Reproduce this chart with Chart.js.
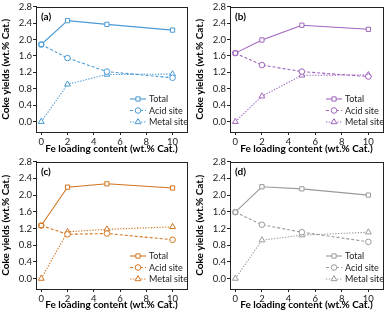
<!DOCTYPE html>
<html>
<head>
<meta charset="utf-8">
<script src="https://cdn.jsdelivr.net/npm/chart.js@4.4.1/dist/chart.umd.min.js"></script>
<style>
  html,body{margin:0;padding:0;background:#fff;}
  #wrap{position:relative;width:389px;height:311px;}
  .pn{position:absolute;}
</style>
</head>
<body>
<div id="wrap">
  <div class="pn" style="left:0;top:0;width:194px;height:155px;"><canvas id="ca"></canvas></div>
  <div class="pn" style="left:194px;top:0;width:195px;height:155px;"><canvas id="cb"></canvas></div>
  <div class="pn" style="left:0;top:155px;width:194px;height:156px;"><canvas id="cc"></canvas></div>
  <div class="pn" style="left:194px;top:155px;width:195px;height:156px;"><canvas id="cd"></canvas></div>
</div>
<script>
// Fe loading (wt.% Cat.)
const feLoading = [0, 2, 5, 10];
const xTicks = [0, 2, 4, 6, 8, 10];
const yTicks = [0, 0.4, 0.8, 1.2, 1.6, 2.0, 2.4, 2.8];

const totalA = [1.88, 2.46, 2.37, 2.23];
const acidA  = [1.88, 1.55, 1.22, 1.07];
const metalA = [0.00, 0.91, 1.15, 1.16];

const totalB = [1.67, 1.99, 2.35, 2.25];
const acidB  = [1.67, 1.38, 1.22, 1.10];
const metalB = [0.00, 0.62, 1.13, 1.14];

const totalC = [1.27, 2.19, 2.27, 2.17];
const acidC  = [1.27, 1.06, 1.08, 0.93];
const metalC = [0.00, 1.12, 1.18, 1.24];

const totalD = [1.59, 2.20, 2.15, 2.00];
const acidD  = [1.59, 1.29, 1.11, 0.88];
const metalD = [0.00, 0.92, 1.04, 1.11];

const seriesNames = ['Total', 'Acid site', 'Metal site'];
const FONT = "Lato, 'Open Sans', sans-serif";
const INK = '#222';

const styles = [
  {pointStyle:'rect', radius:3.0, dash:[]},
  {pointStyle:'circle', radius:2.8, dash:[3,2]},
  {pointStyle:'triangle', radius:3.4, dash:[1.3,1.5]},
];

const frameAndLegend = {
  id:'frameAndLegend',
  afterDraw(chart, args, opts){
    const {ctx, chartArea:a} = chart;
    ctx.save();
    ctx.strokeStyle = INK; ctx.lineWidth = 1;
    ctx.strokeRect(Math.round(a.left)+0.5, Math.round(a.top)+0.5, Math.round(a.right-a.left), Math.round(a.bottom-a.top));
    // panel label
    ctx.fillStyle = '#000';
    ctx.font = "bold 10px " + FONT;
    ctx.textBaseline = 'middle'; ctx.textAlign = 'left';
    ctx.fillText(opts.tag, a.left + 5, a.top + 10);
    // legend
    ctx.font = "9px " + FONT;
    seriesNames.forEach((name, i) => {
      const y = a.bottom - 33 + i * 11.5;
      const x0 = a.right - 57, x1 = a.right - 41;
      const st = styles[i];
      ctx.strokeStyle = opts.color; ctx.lineWidth = 1.1;
      ctx.setLineDash(st.dash);
      ctx.beginPath(); ctx.moveTo(x0, y); ctx.lineTo(x1, y); ctx.stroke();
      ctx.setLineDash([]);
      ctx.fillStyle = '#fff'; ctx.lineWidth = 1;
      Chart.helpers.drawPoint(ctx, {pointStyle: st.pointStyle, radius: st.radius, borderWidth: 1}, (x0+x1)/2, y);
      ctx.fillStyle = INK;
      ctx.fillText(name, x1 + 3, y + 0.5);
    });
    ctx.restore();
  }
};

function makeChart(id, tag, color, total, acid, metal, padRight, xHeight){
  const sets = [total, acid, metal].map((vals, i) => ({
    label: seriesNames[i],
    data: feLoading.map((x, k) => ({x, y: vals[k]})),
    borderColor: color,
    backgroundColor: '#fff',
    borderWidth: 1.1,
    borderDash: styles[i].dash,
    pointStyle: styles[i].pointStyle,
    pointRadius: styles[i].radius,
    pointBorderWidth: 1,
    pointBackgroundColor: '#fff',
    pointBorderColor: color,
    tension: 0,
  }));
  return new Chart(document.getElementById(id), {
    type: 'line',
    data: {datasets: sets},
    plugins: [frameAndLegend],
    options: {
      responsive: true, maintainAspectRatio: false, animation: false,
      layout: {padding: {left: 0, right: padRight, top: 4, bottom: 0}},
      plugins: {legend: {display: false}, tooltip: {enabled: false}, frameAndLegend: {tag, color}},
      scales: {
        x: {
          type: 'linear', min: -0.4, max: 11.1,
          afterBuildTicks: s => { s.ticks = xTicks.map(v => ({value: v})); },
          afterFit: s => { s.height = xHeight; },
          grid: {drawOnChartArea: false, tickLength: 3, color: INK},
          border: {color: INK},
          ticks: {color: INK, font: {family: FONT, size: 9.5}, padding: 1, maxRotation: 0},
          title: {display: true, text: 'Fe loading content (wt.% Cat.)', color: '#000',
                  font: {family: FONT, size: 10, weight: 'bold'}, padding: {top: 0, bottom: 0}},
        },
        y: {
          min: -0.25, max: 2.8,
          afterBuildTicks: s => { s.ticks = yTicks.map(v => ({value: v})); },
          afterFit: s => { s.width = 36; },
          grid: {drawOnChartArea: false, tickLength: 3, color: INK},
          border: {color: INK},
          ticks: {color: INK, font: {family: FONT, size: 9.5}, padding: 1, callback: v => v.toFixed(1)},
          title: {display: true, text: 'Coke yields (wt.% Cat.)', color: '#000',
                  font: {family: FONT, size: 10, weight: 'bold'}, padding: {top: 0, bottom: 2}},
        }
      }
    }
  });
}

makeChart('ca', '(a)', '#4a9ad4', totalA, acidA, metalA, 7, 23);
makeChart('cb', '(b)', '#a064be', totalB, acidB, metalB, 6, 23);
makeChart('cc', '(c)', '#d2741e', totalC, acidC, metalC, 7, 22);
makeChart('cd', '(d)', '#9a9a9a', totalD, acidD, metalD, 6, 22);
</script>
</body>
</html>
